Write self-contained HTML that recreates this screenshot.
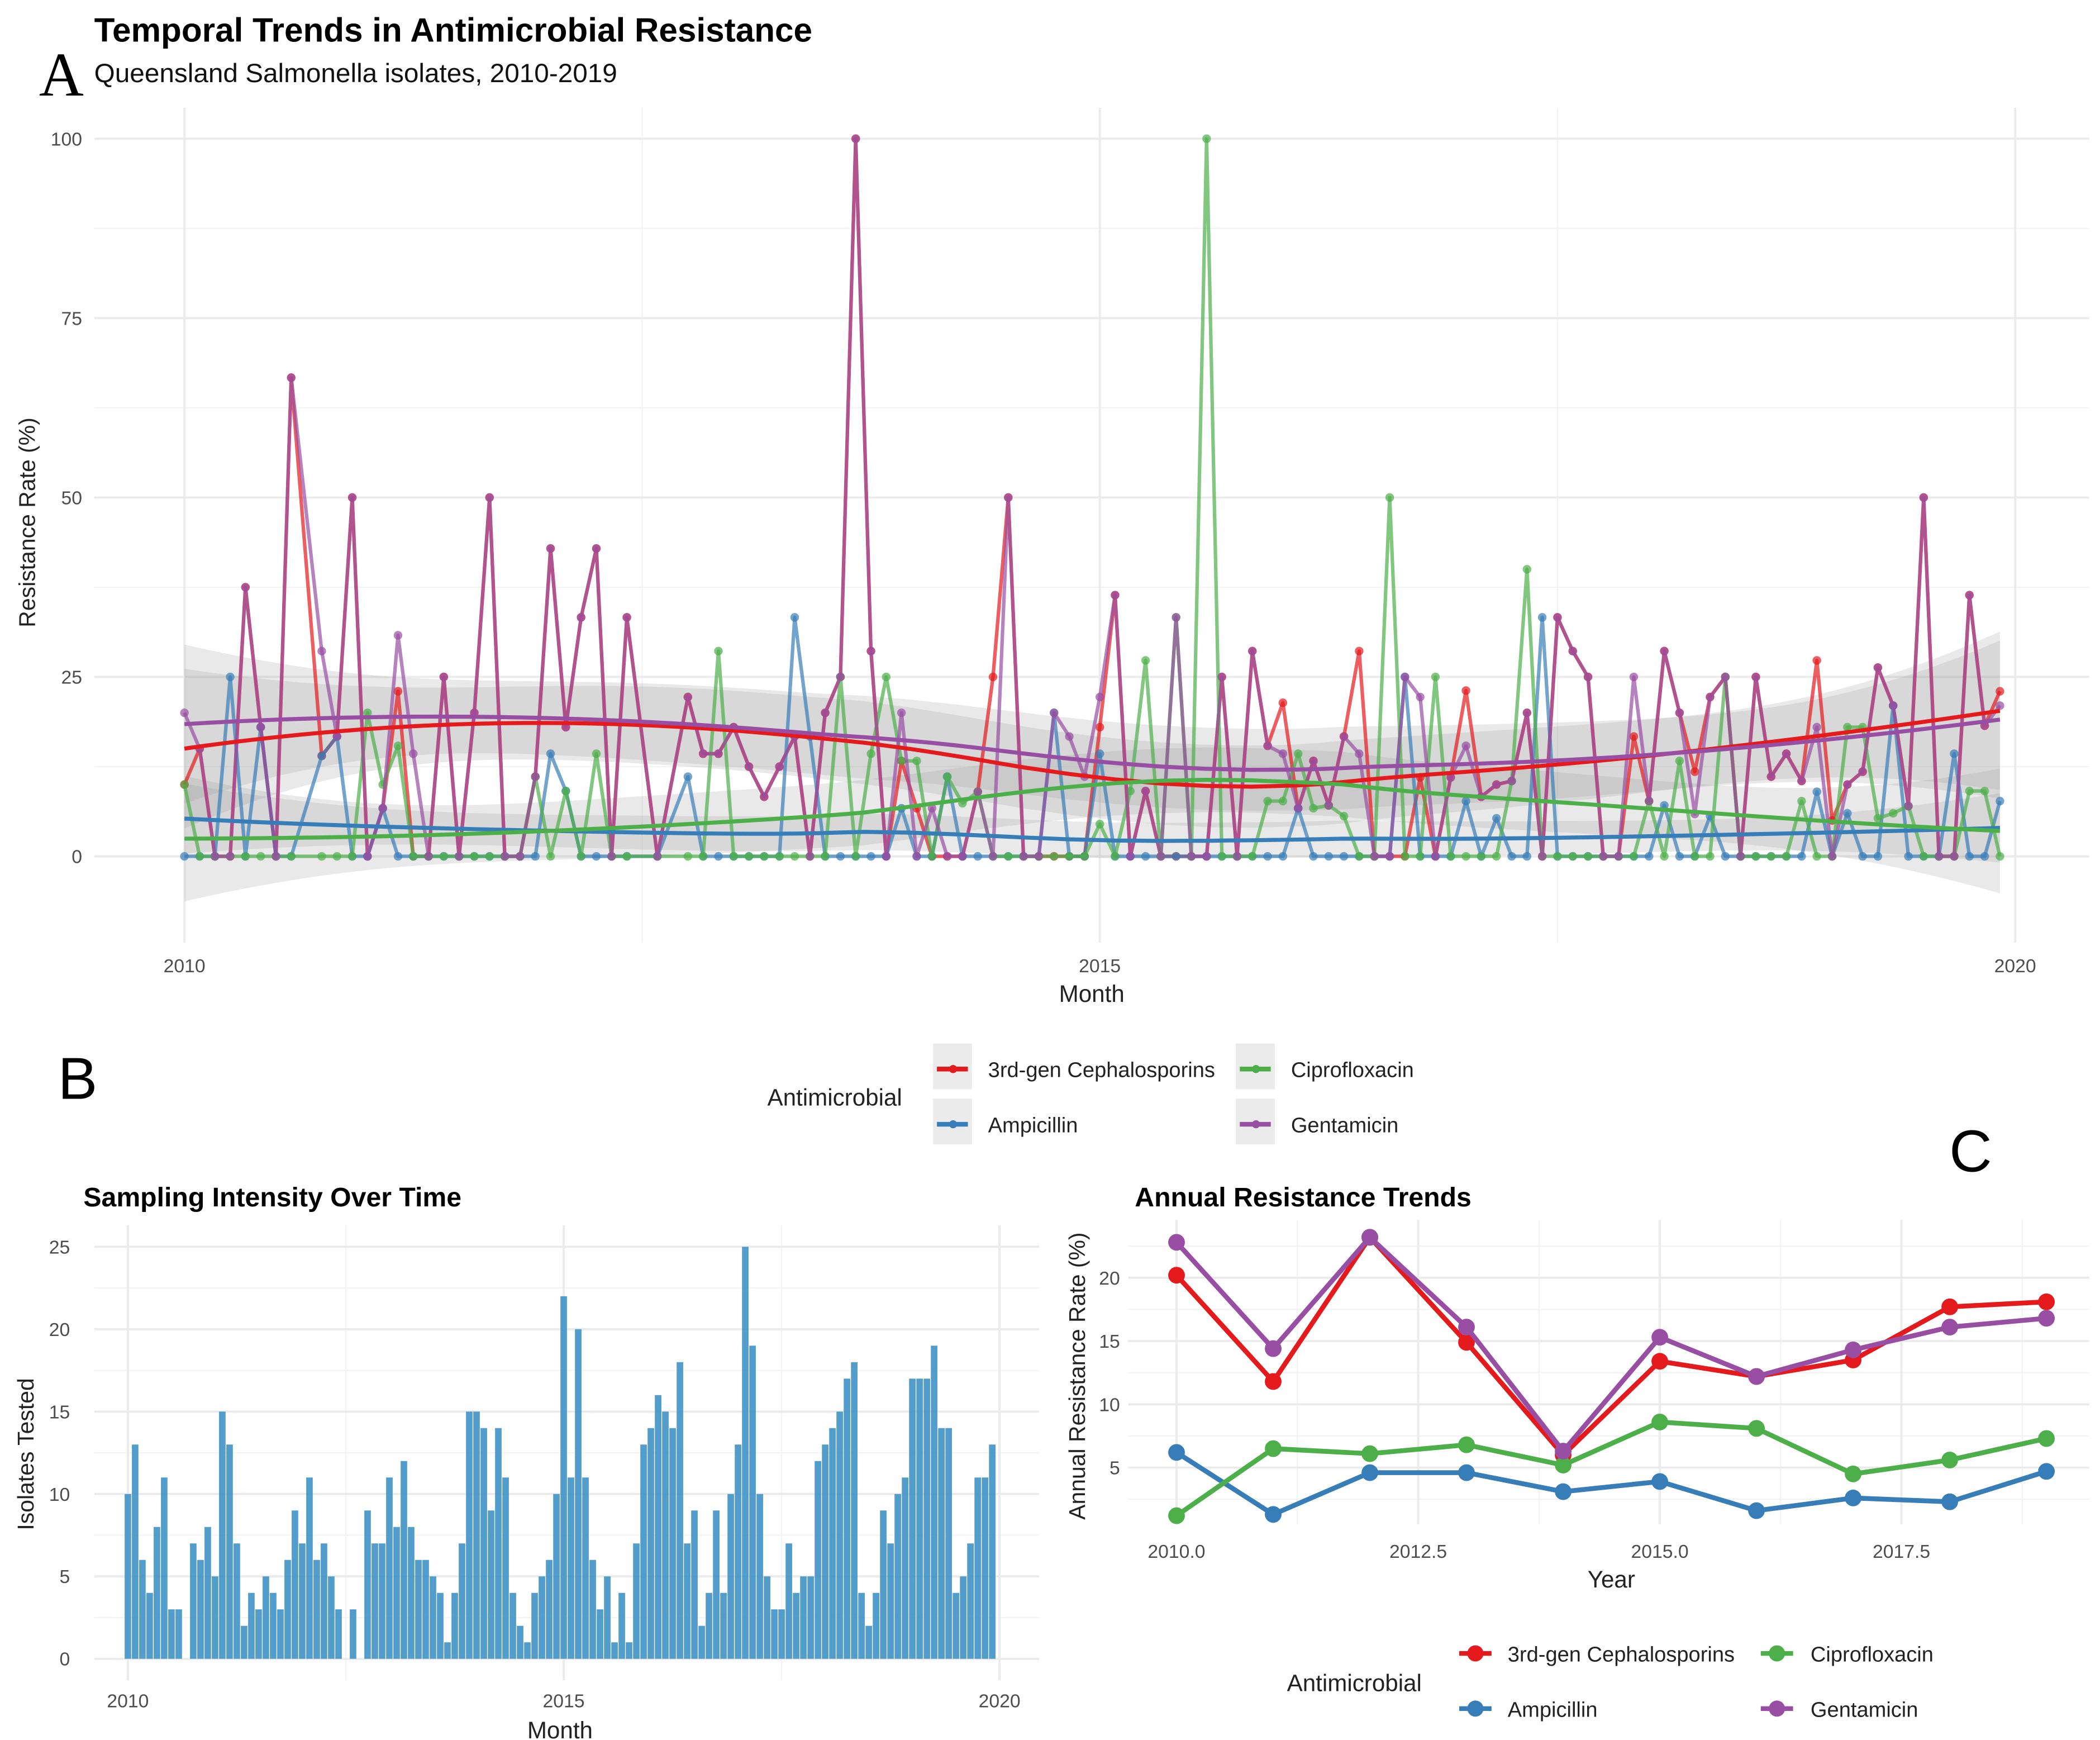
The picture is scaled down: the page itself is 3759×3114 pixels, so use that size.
<!DOCTYPE html>
<html><head><meta charset="utf-8">
<style>
html,body{margin:0;padding:0;background:#fff;}
svg{display:block;font-family:"Liberation Sans",Arial,sans-serif;}
</style></head>
<body>
<svg id="fig" width="3759" height="3114" viewBox="0 0 1560 1292.3" xmlns="http://www.w3.org/2000/svg">
<rect x="0" y="0" width="1560" height="1292.3" fill="#fff"/>
<!-- Panel A static text -->
<text x="70" y="31" font-size="25" font-weight="bold" fill="#000">Temporal Trends in Antimicrobial Resistance</text>
<text x="70" y="61" font-size="19.8" fill="#111">Queensland Salmonella isolates, 2010-2019</text>
<text x="29" y="71" font-size="46" font-family="Liberation Serif, serif" fill="#000">A</text>
<text transform="translate(26,388) rotate(-90)" text-anchor="middle" font-size="17" fill="#222">Resistance Rate (%)</text>
<text x="811" y="744" text-anchor="middle" font-size="17.5" fill="#222">Month</text>
<g id="gA"></g>

<!-- Middle legend -->
<g>
<text x="570" y="821" font-size="17.5" fill="#222">Antimicrobial</text>
<rect x="693" y="775" width="29" height="34" fill="#ebebeb"/>
<line x1="696" y1="794" x2="719" y2="794" stroke="#e41a1c" stroke-width="3.5"/><circle cx="708" cy="794" r="3" fill="#e41a1c"/>
<text x="734" y="800" font-size="15.8" fill="#222">3rd-gen Cephalosporins</text>
<rect x="693" y="816" width="29" height="34" fill="#ebebeb"/>
<line x1="696" y1="835" x2="719" y2="835" stroke="#377eb8" stroke-width="3.5"/><circle cx="708" cy="835" r="3" fill="#377eb8"/>
<text x="734" y="841" font-size="15.8" fill="#222">Ampicillin</text>
<rect x="918" y="775" width="29" height="34" fill="#ebebeb"/>
<line x1="921" y1="794" x2="944" y2="794" stroke="#4daf4a" stroke-width="3.5"/><circle cx="933" cy="794" r="3" fill="#4daf4a"/>
<text x="959" y="800" font-size="15.8" fill="#222">Ciprofloxacin</text>
<rect x="918" y="816" width="29" height="34" fill="#ebebeb"/>
<line x1="921" y1="835" x2="944" y2="835" stroke="#984ea3" stroke-width="3.5"/><circle cx="933" cy="835" r="3" fill="#984ea3"/>
<text x="959" y="841" font-size="15.8" fill="#222">Gentamicin</text>
</g>

<!-- Panel B -->
<text x="43" y="816" font-size="44" fill="#000">B</text>
<text x="62" y="896" font-size="20" font-weight="bold" fill="#000">Sampling Intensity Over Time</text>
<text transform="translate(25,1080) rotate(-90)" text-anchor="middle" font-size="17" fill="#222">Isolates Tested</text>
<text x="416" y="1291" text-anchor="middle" font-size="17.5" fill="#222">Month</text>
<g id="gB"></g>

<!-- Panel C -->
<text x="1448" y="870" font-size="44" fill="#000">C</text>
<text x="843" y="896" font-size="20" font-weight="bold" fill="#000">Annual Resistance Trends</text>
<text transform="translate(806,1022) rotate(-90)" text-anchor="middle" font-size="17" fill="#222">Annual Resistance Rate (%)</text>
<text x="1197" y="1179" text-anchor="middle" font-size="17.5" fill="#222">Year</text>
<g id="gC"></g>
<g>
<text x="956" y="1256" font-size="17.5" fill="#222">Antimicrobial</text>
<line x1="1084" y1="1228" x2="1108" y2="1228" stroke="#e41a1c" stroke-width="3.5"/><circle cx="1096" cy="1228" r="6" fill="#e41a1c"/>
<text x="1120" y="1234" font-size="15.8" fill="#222">3rd-gen Cephalosporins</text>
<line x1="1084" y1="1269" x2="1108" y2="1269" stroke="#377eb8" stroke-width="3.5"/><circle cx="1096" cy="1269" r="6" fill="#377eb8"/>
<text x="1120" y="1275" font-size="15.8" fill="#222">Ampicillin</text>
<line x1="1308" y1="1228" x2="1332" y2="1228" stroke="#4daf4a" stroke-width="3.5"/><circle cx="1320" cy="1228" r="6" fill="#4daf4a"/>
<text x="1345" y="1234" font-size="15.8" fill="#222">Ciprofloxacin</text>
<line x1="1308" y1="1269" x2="1332" y2="1269" stroke="#984ea3" stroke-width="3.5"/><circle cx="1320" cy="1269" r="6" fill="#984ea3"/>
<text x="1345" y="1275" font-size="15.8" fill="#222">Gentamicin</text>
</g>
</svg>
<script>
// ---------- Panel A data (monthly resistance %, Jan 2010 .. Dec 2019; null = no isolates) ----------
var cephMonthly = [10,15,0,0,37.5,18,0,66.7,null,14,16.7,50,0,6.7,23,0,0,25,0,20,50,0,0,11.1,42.9,18,33.3,42.9,0,33.3,null,0,null,22.2,14.3,14.3,18,12.5,8.3,12.5,16.7,0,20,25,100,28.6,0,13.3,6.7,0,0,0,9,25,50,0,0,0,0,0,18,36.4,0,9.1,0,0,0,0,25,0,28.6,15.4,21.4,6.7,13.3,7.1,16.7,28.6,0,0,0,11,0,11,23.1,8.3,10,10.5,20,0,33.3,28.6,25,0,0,16.7,7.7,28.6,20,11.8,22.2,25,0,25,11.1,14.3,10.5,27.3,5,10,11.8,26.3,21,7,50,0,0,36.4,18.2,23];
var gentMonthly = [20,15,0,0,37.5,18,0,66.7,null,28.6,16.7,50,0,6.7,30.8,14.3,0,25,0,20,50,0,0,11.1,42.9,18,33.3,42.9,0,33.3,null,0,null,22.2,14.3,14.3,18,12.5,8.3,12.5,16.7,0,20,25,100,28.6,0,20,0,6.7,0,0,9,0,50,0,0,20,16.7,11.1,22.2,36.4,0,9.1,0,33.3,0,0,25,0,28.6,15.4,14.3,6.7,13.3,7.1,16.7,14.3,0,0,25,22.2,0,11,15.4,8.3,10,10.5,20,0,33.3,28.6,25,0,0,25,7.7,28.6,20,5.9,22.2,25,0,25,11.1,14.3,10.5,18,0,10,11.8,26.3,21,7,50,0,0,36.4,18.2,21];
var ciproMonthly = [10,0,0,0,0,0,0,0,null,0,0,0,20,10,15.4,0,0,0,0,0,0,0,0,11.1,0,9.1,0,14.3,0,0,null,0,null,0,0,28.6,0,0,0,0,0,0,0,25,0,14.3,25,13.3,13.3,0,11.1,7.4,9,0,0,0,0,0,0,0,4.5,0,9.1,27.3,0,33.3,0,100,0,0,0,7.7,7.7,14.3,6.7,7.1,5.6,0,0,50,0,0,25,0,0,0,0,10.5,40,0,0,0,0,0,0,0,7.7,0,13.3,0,0,25,0,0,0,0,7.7,0,0,18,18,5.3,6,7,0,0,0,9.1,9.1,0];
var ampMonthly = [0,0,0,25,0,18,0,0,null,14,16.7,0,0,6.7,0,0,0,0,0,0,0,0,0,0,14.3,9.1,0,0,0,0,null,0,null,11.1,0,0,0,0,0,0,33.3,16.7,0,0,0,0,0,6.7,0,0,11.1,0,0,0,0,0,0,20,0,0,14.3,0,0,0,0,0,0,0,0,0,0,0,0,6.7,0,0,0,0,0,0,25,0,0,0,7.7,0,5.3,0,0,33.3,0,0,0,0,0,0,0,7.1,0,0,5.6,0,0,0,0,0,0,9,0,6,0,0,21,0,0,0,14.3,0,0,7.7];
var aTicksY = [0,25,50,75,100];
var aTicksX = [2010,2015,2020];

// ---------- Panel B data (isolates tested per month) ----------
var isolatesTested = [10,13,6,4,8,11,3,3,0,7,6,8,5,15,13,7,2,4,3,5,4,3,6,9,7,11,6,7,5,3,0,3,0,9,7,7,11,8,12,8,6,6,5,4,1,4,7,15,15,14,9,14,11,4,2,1,4,5,6,10,22,11,20,11,6,3,5,1,4,1,7,13,14,16,15,14,18,7,9,2,4,9,4,10,13,25,19,10,5,3,3,7,4,5,5,12,13,14,15,17,18,4,2,4,9,7,10,11,17,17,17,19,14,14,4,5,7,11,11,13];
var bTicksY = [0,5,10,15,20,25];
var bTicksX = [2010,2015,2020];

// ---------- Panel C data (annual resistance %) ----------
var years = [2010,2011,2012,2013,2014,2015,2016,2017,2018,2019];
var cephAnnual = [20.2,11.8,23.2,14.9,6.0,13.4,12.2,13.5,17.7,18.1];
var gentAnnual = [22.8,14.4,23.2,16.1,6.3,15.3,12.2,14.3,16.1,16.8];
var ciproAnnual = [1.2,6.5,6.1,6.8,5.2,8.6,8.1,4.5,5.6,7.3];
var ampAnnual = [6.2,1.3,4.6,4.6,3.1,3.9,1.6,2.6,2.3,4.7];
var cTicksY = [5,10,15,20];
var cTicksX = [2010,2012.5,2015,2017.5];

var NS = "http://www.w3.org/2000/svg";
function mk(parent, tag, attrs){ var e=document.createElementNS(NS,tag); for(var k in attrs) e.setAttribute(k,attrs[k]); parent.appendChild(e); return e; }
var COL = {ceph:"#e41a1c", amp:"#377eb8", cipro:"#4daf4a", gent:"#984ea3"};

// ================= Panel A =================
(function(){
  var g=document.getElementById('gA');
  var X=function(yr){return 137+(yr-2010)*136;};
  var Y=function(v){return 636-v*5.33;};
  var mX=function(m){return X(2010+m/12);};
  var L=70,R=1552,T=80,B=700;
  [12.5,37.5,62.5,87.5].forEach(function(v){ mk(g,'line',{x1:L,x2:R,y1:Y(v),y2:Y(v),stroke:'#f3f3f3','stroke-width':0.9}); });
  [2012.5,2017.5].forEach(function(v){ mk(g,'line',{x1:X(v),x2:X(v),y1:T,y2:B,stroke:'#f3f3f3','stroke-width':0.9}); });
  aTicksY.forEach(function(v){
    mk(g,'line',{x1:L,x2:R,y1:Y(v),y2:Y(v),stroke:'#ebebeb','stroke-width':1.6});
    var t=mk(g,'text',{x:61,y:Y(v)+5,'text-anchor':'end','font-size':14,fill:'#4d4d4d'}); t.textContent=v;
    
    
  });
  aTicksX.forEach(function(v){
    mk(g,'line',{x1:X(v),x2:X(v),y1:T,y2:B,stroke:'#ebebeb','stroke-width':1.6});
    var t=mk(g,'text',{x:X(v),y:722,'text-anchor':'middle','font-size':14,fill:'#4d4d4d'}); t.textContent=v;
    
    
  });
  var series=[['ceph',cephMonthly],['amp',ampMonthly],['cipro',ciproMonthly],['gent',gentMonthly]];
  function loess(arr){
    var xs=[],ys=[]; arr.forEach(function(v,i){ if(v!==null){xs.push(i/12); ys.push(v);} });
    var n=xs.length,q=Math.floor(n*0.75);
    function fitAt(x0){
      var d=xs.map(function(x){return Math.abs(x-x0);}); var ds=d.slice().sort(function(a,b){return a-b;});
      var h=ds[q-1]; var w=d.map(function(di){var u=di/h; return u<1?Math.pow(1-u*u*u,3):0;});
      var A=[[0,0,0],[0,0,0],[0,0,0]],bv=[0,0,0];
      for(var i=0;i<n;i++){var dx=xs[i]-x0,r=[1,dx,dx*dx]; for(var a=0;a<3;a++){bv[a]+=w[i]*r[a]*ys[i]; for(var b=0;b<3;b++)A[a][b]+=w[i]*r[a]*r[b];}}
      var inv=inv3(A); var l=[],fit=0,s2=0;
      for(var i=0;i<n;i++){var dx=xs[i]-x0,r=[1,dx,dx*dx]; var li=(inv[0][0]*r[0]+inv[0][1]*r[1]+inv[0][2]*r[2])*w[i]; l.push(li); fit+=li*ys[i]; s2+=li*li;}
      return {fit:fit,s2:s2,l:l};
    }
    var rss=0,tr=0; for(var i=0;i<n;i++){var f=fitAt(xs[i]); rss+=Math.pow(ys[i]-f.fit,2); tr+=f.l[i];}
    var sigma=Math.sqrt(rss/(n-tr));
    var out=[]; for(var k=0;k<=80;k++){var x0=xs[0]+(xs[n-1]-xs[0])*k/80; var f=fitAt(x0); out.push([x0,f.fit,1.97*sigma*Math.sqrt(f.s2)]);}
    return out;
  }
  function inv3(m){var a=m[0][0],b=m[0][1],c=m[0][2],d=m[1][0],e=m[1][1],f=m[1][2],gg=m[2][0],h=m[2][1],i=m[2][2];
    var A=e*i-f*h,B=-(d*i-f*gg),C=d*h-e*gg,det=a*A+b*B+c*C;
    return [[A/det,-(b*i-c*h)/det,(b*f-c*e)/det],[B/det,(a*i-c*gg)/det,-(a*f-c*d)/det],[C/det,-(a*h-b*gg)/det,(a*e-b*d)/det]];}
  var smooths=series.map(function(s){return [s[0],loess(s[1])];});
  smooths.forEach(function(s){
    var up=s[1].map(function(p){return mX(p[0]*12)+','+Y(p[1]+p[2]);});
    var dn=s[1].slice().reverse().map(function(p){return mX(p[0]*12)+','+Y(p[1]-p[2]);});
    var r=mk(g,'polygon',{points:up.concat(dn).join(' '),fill:'#999',opacity:0.22});
    
    
  });
  series.forEach(function(s){
    var pts=[]; s[1].forEach(function(v,i){ if(v!==null) pts.push(mX(i)+','+Y(v)); });
    var pl=mk(g,'polyline',{points:pts.join(' '),fill:'none',stroke:COL[s[0]],'stroke-width':2.6,opacity:0.7,'stroke-linejoin':'round'});
    
    
    s[1].forEach(function(v,i){ if(v===null) return;
      var c=mk(g,'circle',{cx:mX(i),cy:Y(v),r:3.2,fill:COL[s[0]],opacity:0.7});
      
      
    });
  });
  smooths.forEach(function(s){
    var pts=s[1].map(function(p){return mX(p[0]*12)+','+Y(p[1]);});
    var pl=mk(g,'polyline',{points:pts.join(' '),fill:'none',stroke:COL[s[0]],'stroke-width':3});
    
    
  });
})();

// ================= Panel B =================
(function(){
  var g=document.getElementById('gB');
  var X=function(yr){return 95+(yr-2010)*64.75;};
  var Y=function(v){return 1232-v*12.24;};
  var L=70,R=772,T=910,B=1248;
  [2.5,7.5,12.5,17.5,22.5].forEach(function(v){ mk(g,'line',{x1:L,x2:R,y1:Y(v),y2:Y(v),stroke:'#f3f3f3','stroke-width':0.9}); });
  [2012.5,2017.5].forEach(function(v){ mk(g,'line',{x1:X(v),x2:X(v),y1:T,y2:B,stroke:'#f3f3f3','stroke-width':0.9}); });
  bTicksY.forEach(function(v){
    mk(g,'line',{x1:L,x2:R,y1:Y(v),y2:Y(v),stroke:'#ebebeb','stroke-width':1.6});
    var t=mk(g,'text',{x:52,y:Y(v)+5,'text-anchor':'end','font-size':14,fill:'#4d4d4d'}); t.textContent=v;
    
    
  });
  bTicksX.forEach(function(v){
    mk(g,'line',{x1:X(v),x2:X(v),y1:T,y2:B,stroke:'#ebebeb','stroke-width':1.6});
    var t=mk(g,'text',{x:X(v),y:1268,'text-anchor':'middle','font-size':14,fill:'#4d4d4d'}); t.textContent=v;
    
    
  });
  var mw=64.75/12;
  isolatesTested.forEach(function(v,i){
    if(!v) return;
    var cx=X(2010+i/12);
    var r=mk(g,'rect',{x:cx-mw*0.45,y:Y(v),width:mw*0.9,height:Y(0)-Y(v),fill:'#3a8fc4',opacity:0.88});
    
    
  });
})();

// ================= Panel C =================
(function(){
  var g=document.getElementById('gC');
  var X=function(yr){return 874+(yr-2010)*71.8;};
  var Y=function(v){return 1137-v*9.4;};
  var L=838,R=1552,T=906,B=1132;
  [2.5,7.5,12.5,17.5,22.5].forEach(function(v){ mk(g,'line',{x1:L,x2:R,y1:Y(v),y2:Y(v),stroke:'#f3f3f3','stroke-width':0.9}); });
  [2011.25,2013.75,2016.25,2018.75].forEach(function(v){ mk(g,'line',{x1:X(v),x2:X(v),y1:T,y2:B,stroke:'#f3f3f3','stroke-width':0.9}); });
  cTicksY.forEach(function(v){
    mk(g,'line',{x1:L,x2:R,y1:Y(v),y2:Y(v),stroke:'#ebebeb','stroke-width':1.6});
    var t=mk(g,'text',{x:832,y:Y(v)+5,'text-anchor':'end','font-size':14,fill:'#4d4d4d'}); t.textContent=v;
    
    
  });
  cTicksX.forEach(function(v){
    mk(g,'line',{x1:X(v),x2:X(v),y1:T,y2:B,stroke:'#ebebeb','stroke-width':1.6});
    var t=mk(g,'text',{x:X(v),y:1157,'text-anchor':'middle','font-size':14,fill:'#4d4d4d'}); t.textContent=v.toFixed(1);
    
    
  });
  [['ceph',cephAnnual],['amp',ampAnnual],['cipro',ciproAnnual],['gent',gentAnnual]].forEach(function(s){
    var pts=years.map(function(y,i){return X(y)+','+Y(s[1][i]);});
    var pl=mk(g,'polyline',{points:pts.join(' '),fill:'none',stroke:COL[s[0]],'stroke-width':3.6,'stroke-linejoin':'round'});
    
    
    years.forEach(function(y,i){
      var c=mk(g,'circle',{cx:X(y),cy:Y(s[1][i]),r:6.2,fill:COL[s[0]]});
      
      
    });
  });
})();
</script>
</body></html>
